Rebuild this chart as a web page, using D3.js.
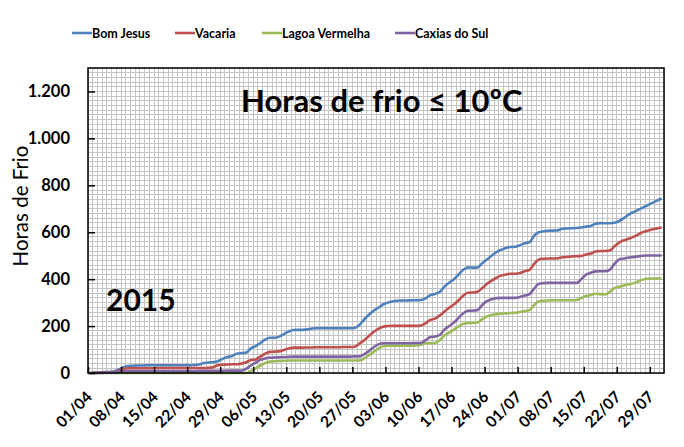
<!DOCTYPE html>
<html><head><meta charset="utf-8">
<script src="https://cdn.jsdelivr.net/npm/d3@7"></script>
<style>
html,body{margin:0;padding:0;background:#fff;}
svg{display:block;font-family:Lato,"Open Sans",sans-serif;}
</style></head>
<body>
<svg id="chart" width="684" height="447"></svg>
<script>
// ---- data ----
const startDate = "2015-04-01";
const nDays = 122;
const tickLabels = ["01/04","08/04","15/04","22/04","29/04","06/05","13/05","20/05","27/05","03/06","10/06","17/06","24/06","01/07","08/07","15/07","22/07","29/07"];
const yTickValues = [0,200,400,600,800,1000,1200];
const yTickLabels = ["0","200","400","600","800","1.000","1.200"];
const seriesNames = ["Bom Jesus","Vacaria","Lagoa Vermelha","Caxias do Sul"];
const seriesColors = ["#4F81BD","#C0504D","#9BBB59","#8064A2"];

const bomJesus = [0,2,3,4,5,6,15,25,30,31,32,32,33,33,33,33,33,33,33,33,33,33,34,36,42,45,46,50,60,68,
72,82,85,87,105,115,128,142,150,150,155,166,177,183,184,184,186,190,191,191,
191,191,191,191,191,191,192,205,228,248,265,278,292,300,305,308,309,309,310,310,
311,318,332,337,345,368,385,400,420,440,450,449,450,468,484,500,515,525,533,537,
538,545,553,557,585,600,604,606,607,608,615,616,617,618,620,624,627,636,639,638,
638,640,648,660,675,685,695,705,715,725,735,744];
const vacaria = [0,1,2,2,3,4,10,18,20,20,20,20,20,20,21,21,21,21,21,21,21,21,21,21,21,22,25,33,35,36,
37,37,40,46,55,58,70,82,90,91,92,98,104,108,108,108,109,109,110,110,
110,110,110,110,111,111,112,125,140,158,175,188,197,200,201,201,201,201,201,201,
202,212,226,232,245,262,278,292,310,330,342,343,346,362,380,394,406,415,420,423,
423,426,434,440,465,484,487,488,488,489,493,495,497,498,499,505,509,518,520,520,
522,540,556,566,572,580,590,600,606,612,616,620];
const lagoaVermelha = [0,0,0,0,0,0,0,0,0,0,0,0,0,0,0,0,0,0,0,0,0,0,0,0,0,0,0,0,0,0,
0,0,0,0,8,20,32,42,49,50,51,52,53,53,53,53,53,53,53,53,
53,53,53,53,53,53,53,53,62,76,90,104,114,116,116,116,116,116,116,117,
120,127,127,128,140,160,172,185,198,210,213,213,215,230,241,247,251,253,254,256,
257,260,264,268,290,306,308,309,310,310,310,310,310,311,320,328,333,338,336,335,
345,362,368,373,378,382,390,398,402,403,403,403];
const caxiasDoSul = [0,0,0,1,2,3,5,7,8,8,8,8,8,8,8,8,8,8,8,8,8,8,8,9,9,9,9,9,9,10,
10,10,10,18,32,44,56,62,65,66,67,68,69,70,70,70,70,70,70,70,
70,70,70,70,70,70,71,71,80,94,110,122,127,127,127,127,127,127,127,128,
128,140,153,156,162,185,200,215,235,255,265,266,268,290,306,314,319,320,320,320,
320,324,330,336,360,380,383,384,384,384,384,384,384,384,400,420,427,433,434,434,
440,465,484,488,492,494,497,500,501,501,501,501];
const seriesValues = [bomJesus, vacaria, lagoaVermelha, caxiasDoSul];

const titleText = "Horas de frio \u2264 10\u00baC";
const yearText = "2015";
const yAxisTitle = "Horas de Frio";

// ---- layout ----
const svg = d3.select("#chart");
const L = 88, R = 664, T = 68, B = 373;
const x = d3.scaleLinear().domain([0, nDays]).range([L, R]);
const y = d3.scaleLinear().domain([0, 1300]).range([B, T]);

// grid
const g = svg.append("g");
g.selectAll("line.vg").data(d3.range(0, nDays + 1)).join("line")
  .attr("x1", d => x(d)).attr("x2", d => x(d)).attr("y1", T).attr("y2", B)
  .attr("stroke", "#c4c4c4").attr("stroke-width", 1).attr("shape-rendering","crispEdges");
g.selectAll("line.hg").data(d3.range(0, 1301, 20)).join("line")
  .attr("x1", L).attr("x2", R).attr("y1", d => y(d)).attr("y2", d => y(d))
  .attr("stroke", "#c4c4c4").attr("stroke-width", 1).attr("shape-rendering","crispEdges");

// lines
const line = d3.line().x((d, i) => x(i + 0.5)).y(d => y(d)).curve(d3.curveMonotoneX);
seriesValues.forEach((vals, k) => {
  svg.append("path").datum(vals).attr("d", line)
    .attr("fill", "none").attr("stroke", seriesColors[k]).attr("stroke-width", 2.6)
    .attr("stroke-linejoin","round");
});

// border
svg.append("rect").attr("x", L).attr("y", T).attr("width", R - L).attr("height", B - T)
  .attr("fill", "none").attr("stroke", "#000").attr("stroke-width", 1.5);

// y axis ticks (inside)
const yAxis = d3.axisLeft(y).tickValues(yTickValues).tickSize(-7).tickPadding(18)
  .tickFormat((d, i) => yTickLabels[i]);
const ya = svg.append("g").attr("transform", `translate(${L},0)`).call(yAxis);
ya.select(".domain").remove();
ya.selectAll(".tick line").attr("stroke", "#000").attr("stroke-width", 1.5);
ya.selectAll(".tick text").attr("font-size", 16.5).attr("font-weight", "bold")
  .attr("fill", "#000").attr("font-family", "Lato, sans-serif");

// x axis
const xTickIdx = tickLabels.map((_, i) => i * 7);
const xAxis = d3.axisBottom(x).tickValues(xTickIdx).tickSize(-6).tickFormat("");
const xa = svg.append("g").attr("transform", `translate(0,${B})`).call(xAxis);
xa.select(".domain").remove();
xa.selectAll(".tick line").attr("stroke", "#000").attr("stroke-width", 1.5);
svg.append("g").selectAll("text").data(tickLabels).join("text")
  .attr("transform", (d, i) => `translate(${x(xTickIdx[i]) + 5},${B + 25}) rotate(-45)`)
  .attr("text-anchor", "end").attr("font-size", 15.5).attr("font-weight", "bold")
  .attr("fill", "#000").attr("font-family", "Lato, sans-serif")
  .text(d => d);

// titles
svg.append("text").attr("x", 241).attr("y", 112).attr("font-size", 31).attr("font-weight", "bold")
  .attr("font-family","Lato, sans-serif").attr("fill", "#000").text(titleText);
svg.append("text").attr("x", 106).attr("y", 311).attr("font-size", 30).attr("font-weight", "bold")
  .attr("font-family","Lato, sans-serif").attr("fill", "#000").text(yearText);
svg.append("text").attr("transform", "translate(28,206) rotate(-90)").attr("text-anchor", "middle")
  .attr("font-size", 20.5).attr("font-family","Lato, sans-serif").attr("fill", "#000").text(yAxisTitle);

// legend
const legendX = [72, 175, 262, 395];
const lg = svg.append("g");
seriesNames.forEach((name, k) => {
  lg.append("line").attr("x1", legendX[k]).attr("x2", legendX[k] + 20)
    .attr("y1", 33).attr("y2", 33).attr("stroke", seriesColors[k]).attr("stroke-width", 2.6);
  lg.append("text").attr("x", legendX[k] + 20).attr("y", 38).attr("font-size", 12.5)
    .attr("font-weight", "bold").attr("font-family","Lato, sans-serif").attr("fill", "#000").text(name);
});
</script>
</body></html>
